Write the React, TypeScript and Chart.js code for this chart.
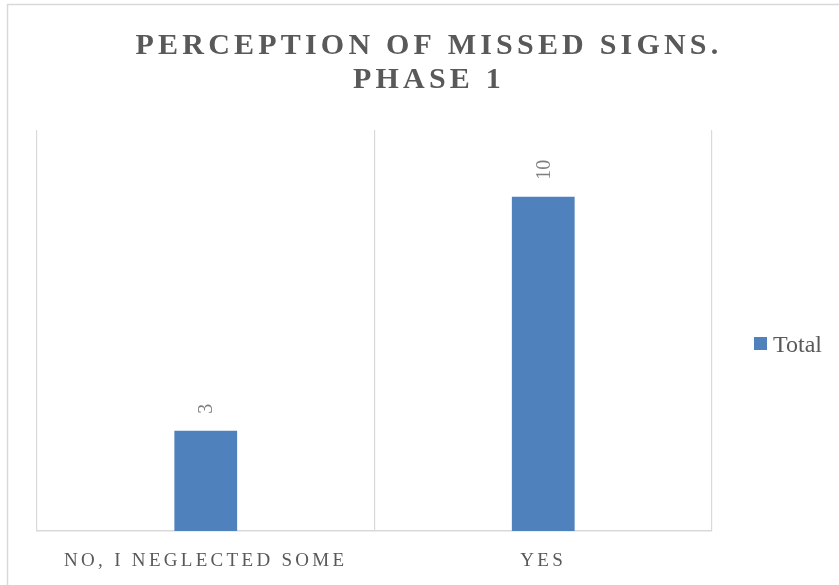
import React, { useEffect, useRef } from "react";
import { Chart, registerables } from "chart.js";

Chart.register(...registerables);

const TITLE_LINES = ["PERCEPTION OF MISSED SIGNS.", "PHASE 1"];
const CATEGORIES = ["NO, I NEGLECTED SOME", "YES"];
const SERIES_NAME = "Total";
const TOTAL_VALUES = [3, 10];
const Y_MIN = 0;
const Y_MAX = 12;

const BAR_COLOR = "#4F81BD";
const TEXT_COLOR = "#595959";
const LABEL_COLOR = "#7F7F7F";
const GRID_COLOR = "#D9D9D9";
const SERIF = '"Liberation Serif", "Times New Roman", serif';

const decorPlugin = {
  id: "decor",
  beforeDraw(chart: any) {
    const ctx = chart.ctx;
    ctx.save();
    ctx.fillStyle = "#ffffff";
    ctx.fillRect(0, 0, chart.width, chart.height);
    ctx.strokeStyle = GRID_COLOR;
    ctx.lineWidth = 1.5;
    ctx.strokeRect(7.5, 4.5, chart.width + 20, chart.height + 20);
    ctx.restore();
  },
  afterDraw(chart: any) {
    const ctx = chart.ctx;
    // Title
    ctx.save();
    ctx.fillStyle = TEXT_COLOR;
    ctx.font = "bold 30px " + SERIF;
    (ctx as any).letterSpacing = "4.2px";
    ctx.textAlign = "center";
    ctx.textBaseline = "alphabetic";
    const titleBaselines = [53.5, 88];
    TITLE_LINES.forEach((line, i) => {
      ctx.fillText(line, 429, titleBaselines[i]);
    });
    ctx.restore();

    // Category labels on x axis
    const xs = chart.scales.x;
    ctx.save();
    ctx.fillStyle = TEXT_COLOR;
    ctx.font = "19px " + SERIF;
    (ctx as any).letterSpacing = "3.3px";
    ctx.textAlign = "center";
    ctx.textBaseline = "alphabetic";
    CATEGORIES.forEach((c, i) => {
      ctx.fillText(c, xs.getPixelForValue(i), chart.chartArea.bottom + 35);
    });
    ctx.restore();

    // Legend
    const ds = chart.data.datasets[0];
    ctx.save();
    ctx.fillStyle = ds.backgroundColor;
    ctx.fillRect(754, 337, 13, 13);
    ctx.fillStyle = TEXT_COLOR;
    ctx.font = "24px " + SERIF;
    ctx.textAlign = "left";
    ctx.textBaseline = "alphabetic";
    ctx.fillText(ds.label, 773, 351.5);
    ctx.restore();
  },
  afterDatasetsDraw(chart: any) {
    const ctx = chart.ctx;
    const meta = chart.getDatasetMeta(0);
    const data = chart.data.datasets[0].data;
    ctx.save();
    ctx.fillStyle = LABEL_COLOR;
    ctx.font = "20px " + SERIF;
    ctx.textAlign = "left";
    ctx.textBaseline = "middle";
    meta.data.forEach((el: any, i: number) => {
      ctx.save();
      ctx.translate(el.x + 1, el.y - 17);
      ctx.rotate(-Math.PI / 2);
      ctx.fillText(String(data[i]), 0, 0);
      ctx.restore();
    });
    ctx.restore();
  },
};

export default function App() {
  const canvasRef = useRef<HTMLCanvasElement | null>(null);

  useEffect(() => {
    const canvas = canvasRef.current;
    if (!canvas) return;
    const chart = new Chart(canvas, {
      type: "bar",
      data: {
        labels: CATEGORIES,
        datasets: [
          {
            label: SERIES_NAME,
            data: TOTAL_VALUES,
            backgroundColor: BAR_COLOR,
            borderWidth: 0,
            categoryPercentage: 1,
            barPercentage: 0.186,
          },
        ],
      },
      options: {
        responsive: false,
        animation: false,
        devicePixelRatio: 1,
        layout: { padding: { left: 37, top: 130, right: 127, bottom: 54 } },
        plugins: {
          legend: { display: false },
          title: { display: false },
          tooltip: { enabled: false },
        },
        scales: {
          x: {
            display: true,
            offset: true,
            ticks: { display: false },
            grid: {
              display: true,
              offset: true,
              drawTicks: false,
              color: GRID_COLOR,
              lineWidth: 1.2,
            },
            border: { display: true, color: GRID_COLOR, width: 1.5 },
          },
          y: {
            display: false,
            min: Y_MIN,
            max: Y_MAX,
          },
        },
      },
      plugins: [decorPlugin],
    });
    return () => chart.destroy();
  }, []);

  return (
    <div
      style={{
        position: "fixed",
        left: 0,
        top: 0,
        width: 839,
        height: 585,
        background: "#fff",
      }}
    >
      <canvas ref={canvasRef} width={839} height={585} style={{ display: "block" }} />
    </div>
  );
}
